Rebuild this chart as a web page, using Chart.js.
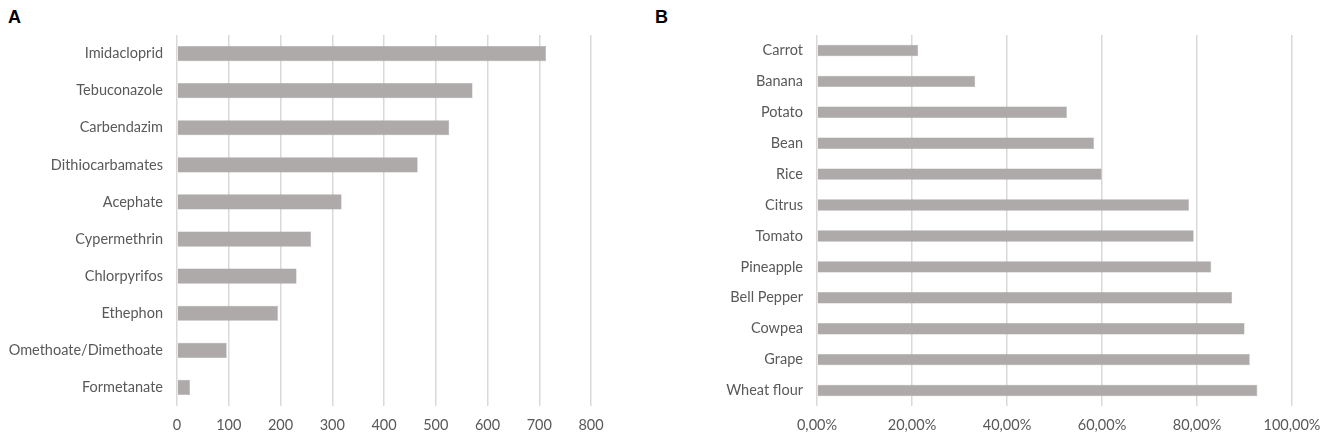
<!DOCTYPE html>
<html>
<head>
<meta charset="utf-8">
<script src="https://cdn.jsdelivr.net/npm/chart.js@4.4.0/dist/chart.umd.min.js"></script>
<style>
  html,body{margin:0;padding:0;background:#fff;}
  #wrap{position:relative;width:1325px;height:444px;overflow:hidden;}
  .panel{position:absolute;top:0;height:444px;}
  .tag{position:absolute;top:7px;font-family:"Liberation Sans",Arial,sans-serif;font-weight:bold;font-size:18px;color:#000;}
</style>
</head>
<body>
<div id="wrap">
  <div class="tag" style="left:8px;">A</div>
  <div class="tag" style="left:655px;">B</div>
  <div class="panel" style="left:0;width:640px;"><canvas id="cA"></canvas></div>
  <div class="panel" style="left:640px;width:685px;"><canvas id="cB"></canvas></div>
</div>
<script>
// Panel A: pesticides
const pesticideLabels = ["Imidacloprid","Tebuconazole","Carbendazim","Dithiocarbamates","Acephate","Cypermethrin","Chlorpyrifos","Ethephon","Omethoate/Dimethoate","Formetanate"];
const pesticideValues = [713, 571, 526, 465, 318, 259, 231, 195, 96, 25];
const pesticideTicks = [0,100,200,300,400,500,600,700,800];

// Panel B: foods (percent)
const foodLabels = ["Carrot","Banana","Potato","Bean","Rice","Citrus","Tomato","Pineapple","Bell Pepper","Cowpea","Grape","Wheat flour"];
const foodValues = [21.3, 33.3, 52.6, 58.3, 59.9, 78.3, 79.3, 83.0, 87.4, 90.0, 91.1, 92.7];
const foodTicks = [0,20,40,60,80,100];

const TXT = '#595959';
const BAR = '#AEAAAA';
const GRID = '#D9D9D9';
const FONT = {family:'Lato, "Open Sans", sans-serif', size:14.5};

function makeChart(id, labels, values, max, step, fmt, padRight, barFrac){
  return new Chart(document.getElementById(id), {
    type:'bar',
    data:{labels:labels, datasets:[{data:values, backgroundColor:BAR, borderColor:'#A3A0A0', borderWidth:0.5, barPercentage:barFrac, categoryPercentage:1}]},
    options:{
      indexAxis:'y',
      responsive:true, maintainAspectRatio:false, animation:false,
      layout:{padding:{top:35,right:padRight,left:0,bottom:0}},
      plugins:{legend:{display:false}, tooltip:{enabled:false}},
      scales:{
        x:{
          min:0, max:max,
          ticks:{stepSize:step, color:TXT, font:FONT, padding:11, callback:fmt, maxRotation:0},
          grid:{color:GRID, lineWidth:1.5, drawTicks:false},
          border:{display:false},
          afterFit:function(s){ s.height = 38; s.paddingLeft = 0; s.paddingRight = 0; }
        },
        y:{
          ticks:{color:TXT, font:FONT, padding:14},
          grid:{display:false, drawTicks:false},
          border:{display:false},
          afterFit:function(s){ s.width = 177; s.paddingTop = 0; s.paddingBottom = 0; }
        }
      }
    }
  });
}

makeChart('cA', pesticideLabels, pesticideValues, pesticideTicks[pesticideTicks.length-1], pesticideTicks[1]-pesticideTicks[0], function(v){return String(v);}, 49, 0.41);
makeChart('cB', foodLabels, foodValues, foodTicks[foodTicks.length-1], foodTicks[1]-foodTicks[0], function(v){return v.toFixed(2).replace('.', ',') + '%';}, 33, 0.37);
</script>
</body>
</html>
